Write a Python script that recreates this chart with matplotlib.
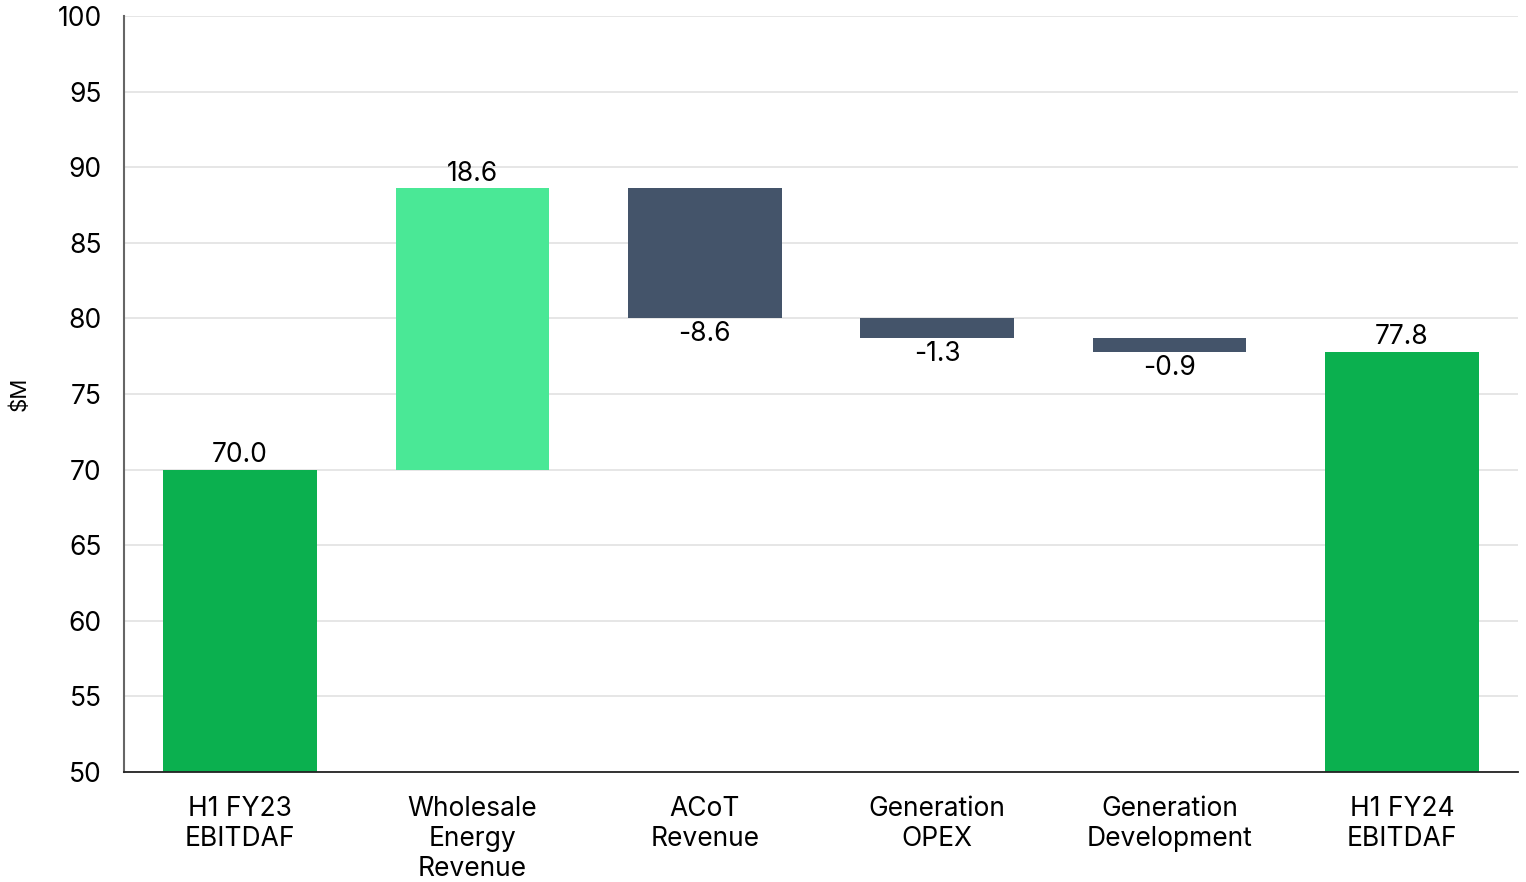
"""EBITDAF bridge, H1 FY23 to H1 FY24"""

import numpy as np
import matplotlib.pyplot as plt

categories = ["H1 FY23\nEBITDAF", "Wholesale\nEnergy\nRevenue", "ACoT\nRevenue",
              "Generation\nOPEX", "Generation\nDevelopment", "H1 FY24\nEBITDAF"]
start_total = 70.0
movements = [18.6, -8.6, -1.3, -0.9]
end_total = 77.8

TOTAL_COLOR = "#0BB04F"
UP_COLOR = "#4AE896"
DOWN_COLOR = "#44546A"

plt.rcParams["font.family"] = ["Inter", "DejaVu Sans"]

fig = plt.figure(figsize=(15.26, 8.82), dpi=100)
ax = fig.add_axes([124 / 1526, 1 - 772 / 882, (1518 - 124) / 1526, (772 - 16) / 882])

ymin, ymax = 50, 100
x = np.arange(len(categories))
width = 0.66
fs = 19

# running totals for the floating bars
levels = start_total + np.concatenate([[0], np.cumsum(movements)])
bottoms = [ymin] + [min(levels[i], levels[i + 1]) for i in range(len(movements))] + [ymin]
heights = [start_total - ymin] + [abs(m) for m in movements] + [end_total - ymin]
colors = [TOTAL_COLOR] + [UP_COLOR if m > 0 else DOWN_COLOR for m in movements] + [TOTAL_COLOR]

ax.bar(x, heights, bottom=bottoms, width=width, color=colors, zorder=3)

# value labels: above for totals and increases, below for decreases
values = [start_total] + movements + [end_total]
for i, v in enumerate(values):
    top = bottoms[i] + heights[i]
    if i in (0, len(values) - 1) or v > 0:
        ax.text(x[i], top + 0.1, f"{v:.1f}", ha="center", va="bottom", fontsize=fs)
    else:
        ax.text(x[i], bottoms[i] - 0.2, f"{v:.1f}", ha="center", va="top", fontsize=fs)

ax.set_xlim(-0.5, len(categories) - 0.5)
ax.set_ylim(ymin, ymax)
ax.set_yticks(np.arange(ymin, ymax + 1, 5))
ax.set_xticks(x)
ax.set_xticklabels(categories, fontsize=fs, linespacing=1.2, va="top")
ax.tick_params(axis="y", length=0, pad=16, labelsize=fs)
ax.tick_params(axis="x", length=0, pad=17)
ax.set_ylabel("$M", fontsize=16)
ax.yaxis.set_label_coords(-(124 - 30) / 1394, 0.5)

ax.grid(axis="y", color="#E2E2E2", linewidth=1.2, zorder=0)
ax.set_axisbelow(True)
for side in ("top", "right"):
    ax.spines[side].set_visible(False)
ax.spines["left"].set_color("#666666")
ax.spines["left"].set_linewidth(1.5)
ax.spines["bottom"].set_color("#222222")
ax.spines["bottom"].set_linewidth(1.3)
ax.spines["bottom"].set_zorder(4)

plt.savefig("out.png", dpi=100)
plt.close()
